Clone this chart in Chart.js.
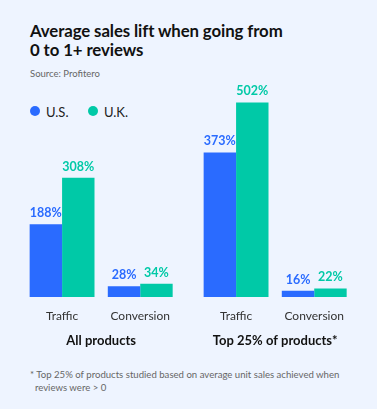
<!DOCTYPE html>
<html>
<head>
<meta charset="utf-8">
<script src="https://cdn.jsdelivr.net/npm/chart.js@4.4.0/dist/chart.umd.min.js"></script>
<style>
    html, body { margin: 0; padding: 0; }
    body { width: 377px; height: 409px; background: #eef4ff; position: relative; overflow: hidden; font-family: Lato, "Open Sans", sans-serif; }
    .title { position: absolute; left: 30px; top: 21px; font-size: 16.8px; font-weight: 700; line-height: 19px; color: #111; letter-spacing: -0.1px; }
    .source { position: absolute; left: 30px; top: 68px; font-size: 9.5px; color: #666; }
    .legend { position: absolute; top: 104px; font-size: 13px; color: #222; }
    .dot { position: absolute; top: 102px; width: 10px; height: 10px; border-radius: 50%; }
    .note { position: absolute; left: 30px; top: 369px; font-size: 9.6px; line-height: 12.5px; color: #666; width: 345px; }
    canvas { position: absolute; }
</style>
</head>
<body>
<div class="title">Average sales lift when going from<br>0 to 1+ reviews</div>
<div class="source">Source: Profitero</div>
<div class="dot" style="left:30px; top:106px; background:#2a6bff"></div>
<div class="legend" style="left:46px">U.S.</div>
<div class="dot" style="left:88px; top:106px; background:#00c9a7"></div>
<div class="legend" style="left:104px">U.K.</div>

<canvas id="all-products-chart" width="159" height="277" style="left:23px; top:80px"></canvas>
<canvas id="top-products-chart" width="159" height="277" style="left:197px; top:80px"></canvas>

<div class="note">* Top 25% of products studied based on average unit sales achieved when<br>&nbsp;&nbsp;reviews were &gt; 0</div>

<script>
// data
var categories = ['Traffic', 'Conversion'];
var allUS = [188, 28];
var allUK = [308, 34];
var topUS = [373, 16];
var topUK = [502, 22];
var seriesNames = ['U.S.', 'U.K.'];

var blue = '#2a6bff';
var green = '#00c9a7';

// draw the % value above each bar
var valueLabels = {
    id: 'valueLabels',
    afterDatasetsDraw: function (chart) {
        var ctx = chart.ctx;
        ctx.save();
        ctx.font = 'bold 12.5px Lato, sans-serif';
        ctx.textAlign = 'center';
        ctx.textBaseline = 'alphabetic';
        chart.data.datasets.forEach(function (ds, i) {
            chart.getDatasetMeta(i).data.forEach(function (bar, j) {
                ctx.fillStyle = ds.backgroundColor;
                ctx.fillText(ds.data[j] + '%', bar.x, bar.y - 7);
            });
        });
        ctx.restore();
    }
};

function makeChart(id, us, uk, groupTitle) {
    var ctx = document.getElementById(id).getContext('2d');
    return new Chart(ctx, {
        type: 'bar',
        data: {
            labels: categories,
            datasets: [{
                label: seriesNames[0],
                data: us,
                backgroundColor: blue,
                categoryPercentage: 0.83,
                barPercentage: 1.0
            }, {
                label: seriesNames[1],
                data: uk,
                backgroundColor: green,
                categoryPercentage: 0.83,
                barPercentage: 1.0
            }]
        },
        options: {
            responsive: false,
            animation: false,
            layout: { padding: 0 },
            plugins: {
                legend: { display: false },
                tooltip: { enabled: false }
            },
            scales: {
                y: {
                    display: false,
                    min: 0,
                    max: 560
                },
                x: {
                    grid: { display: false, drawTicks: false },
                    border: { display: false },
                    ticks: {
                        padding: 12,
                        color: '#333',
                        font: { family: 'Lato', size: 12 }
                    },
                    title: {
                        display: true,
                        text: groupTitle,
                        color: '#111',
                        font: { family: 'Lato', size: 13, weight: 'bold' },
                        padding: { top: 0, bottom: 8 }
                    },
                    afterFit: function (axis) { axis.height = 60; }
                }
            }
        },
        plugins: [valueLabels]
    });
}

var allProductsChart = makeChart('all-products-chart', allUS, allUK, 'All products');
var topProductsChart = makeChart('top-products-chart', topUS, topUK, 'Top 25% of products*');
</script>
</body>
</html>
